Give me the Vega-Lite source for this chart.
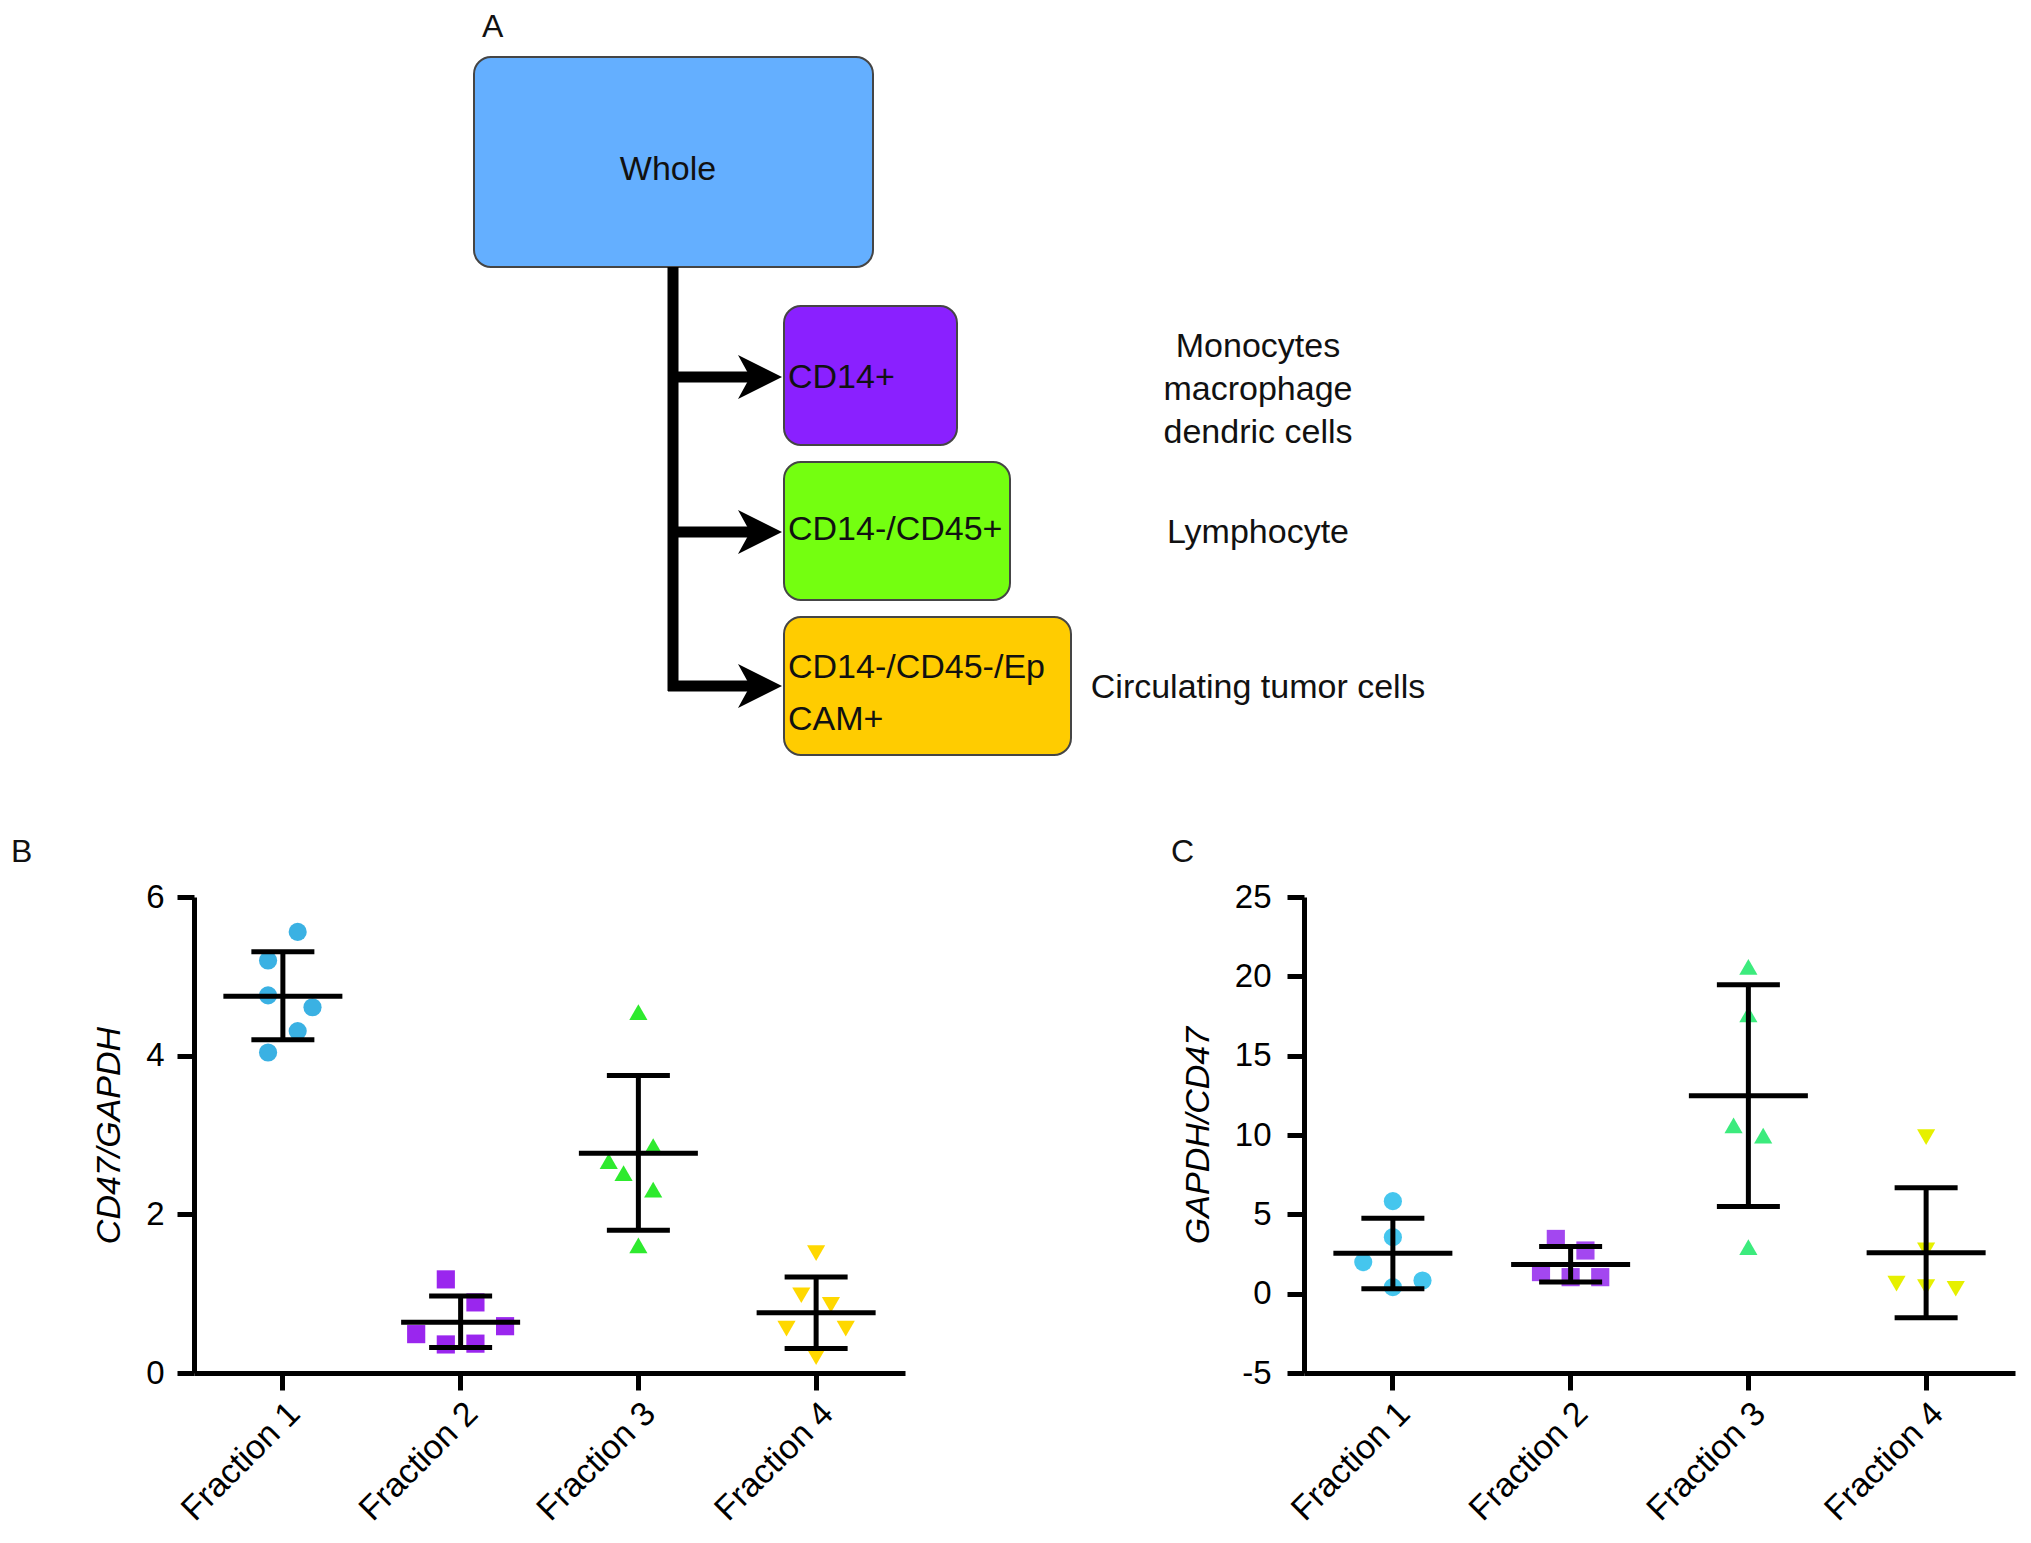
{
  "$schema": "https://vega.github.io/schema/vega-lite/v6.json",
  "padding": {"left": 11, "top": 0, "right": 0, "bottom": 0},
  "autosize": {"type": "pad"},
  "background": "white",
  "config": {
    "font": "Liberation Sans",
    "view": {"stroke": null, "fill": "white"},
    "axis": {"grid": false, "labelColor": "black", "titleColor": "black", "domainColor": "black", "tickColor": "black", "labelFont": "Liberation Sans", "titleFont": "Liberation Sans", "labelLimit": 400}
  },
  "datasets": {
    "boxes": [
      {"box": "Whole", "x": 474, "x2": 873, "y": 57, "y2": 267},
      {"box": "CD14+", "x": 784, "x2": 957, "y": 306, "y2": 445},
      {"box": "CD14-/CD45+", "x": 784, "x2": 1010, "y": 462, "y2": 600},
      {"box": "CD14-/CD45-/EpCAM+", "x": 784, "x2": 1071, "y": 617, "y2": 755}
    ],
    "links": [
      {"x": 673, "x2": 673, "y": 267, "y2": 691},
      {"x": 668, "x2": 758, "y": 377, "y2": 377},
      {"x": 668, "x2": 758, "y": 532, "y2": 532},
      {"x": 668, "x2": 758, "y": 686, "y2": 686}
    ],
    "heads": [
      {"x": 760, "y": 377},
      {"x": 760, "y": 532},
      {"x": 760, "y": 686}
    ],
    "centerText": [
      {"t": "Whole", "x": 668, "y": 180},
      {"t": "Monocytes", "x": 1258, "y": 357},
      {"t": "macrophage", "x": 1258, "y": 400},
      {"t": "dendric cells", "x": 1258, "y": 443},
      {"t": "Lymphocyte", "x": 1258, "y": 543},
      {"t": "Circulating tumor cells", "x": 1258, "y": 698}
    ],
    "leftText": [
      {"t": "CD14+", "x": 788, "y": 388},
      {"t": "CD14-/CD45+", "x": 788, "y": 540},
      {"t": "CD14-/CD45-/Ep", "x": 788, "y": 678},
      {"t": "CAM+", "x": 788, "y": 730}
    ],
    "letters": [
      {"t": "A", "x": 482, "y": 37},
      {"t": "B", "x": 11, "y": 862},
      {"t": "C", "x": 1171, "y": 862}
    ],
    "cd47": [
      {"fraction": "Fraction 1", "value": 5.56, "slot": 1},
      {"fraction": "Fraction 1", "value": 5.20, "slot": -1},
      {"fraction": "Fraction 1", "value": 4.76, "slot": -1},
      {"fraction": "Fraction 1", "value": 4.61, "slot": 2},
      {"fraction": "Fraction 1", "value": 4.31, "slot": 1},
      {"fraction": "Fraction 1", "value": 4.04, "slot": -1},
      {"fraction": "Fraction 2", "value": 1.18, "slot": -1},
      {"fraction": "Fraction 2", "value": 0.89, "slot": 1},
      {"fraction": "Fraction 2", "value": 0.59, "slot": 3},
      {"fraction": "Fraction 2", "value": 0.49, "slot": -3},
      {"fraction": "Fraction 2", "value": 0.36, "slot": -1},
      {"fraction": "Fraction 2", "value": 0.37, "slot": 1},
      {"fraction": "Fraction 3", "value": 4.55, "slot": 0},
      {"fraction": "Fraction 3", "value": 2.86, "slot": 1},
      {"fraction": "Fraction 3", "value": 2.67, "slot": -2},
      {"fraction": "Fraction 3", "value": 2.52, "slot": -1},
      {"fraction": "Fraction 3", "value": 2.31, "slot": 1},
      {"fraction": "Fraction 3", "value": 1.61, "slot": 0},
      {"fraction": "Fraction 4", "value": 1.51, "slot": 0},
      {"fraction": "Fraction 4", "value": 0.98, "slot": -1},
      {"fraction": "Fraction 4", "value": 0.86, "slot": 1},
      {"fraction": "Fraction 4", "value": 0.56, "slot": -2},
      {"fraction": "Fraction 4", "value": 0.56, "slot": 2},
      {"fraction": "Fraction 4", "value": 0.20, "slot": 0}
    ],
    "cd47stats": [
      {"fraction": "Fraction 1", "mean": 4.75, "lo": 4.20, "hi": 5.31},
      {"fraction": "Fraction 2", "mean": 0.64, "lo": 0.32, "hi": 0.97},
      {"fraction": "Fraction 3", "mean": 2.77, "lo": 1.80, "hi": 3.75},
      {"fraction": "Fraction 4", "mean": 0.76, "lo": 0.31, "hi": 1.21}
    ],
    "gapdh": [
      {"fraction": "Fraction 1", "value": 5.83, "slot": 0},
      {"fraction": "Fraction 1", "value": 3.56, "slot": 0},
      {"fraction": "Fraction 1", "value": 1.99, "slot": -2},
      {"fraction": "Fraction 1", "value": 0.83, "slot": 2},
      {"fraction": "Fraction 1", "value": 0.41, "slot": 0},
      {"fraction": "Fraction 2", "value": 3.45, "slot": -1},
      {"fraction": "Fraction 2", "value": 2.72, "slot": 1},
      {"fraction": "Fraction 2", "value": 1.36, "slot": -2},
      {"fraction": "Fraction 2", "value": 1.04, "slot": 0},
      {"fraction": "Fraction 2", "value": 1.04, "slot": 2},
      {"fraction": "Fraction 3", "value": 20.6, "slot": 0},
      {"fraction": "Fraction 3", "value": 17.6, "slot": 0},
      {"fraction": "Fraction 3", "value": 10.6, "slot": -1},
      {"fraction": "Fraction 3", "value": 9.96, "slot": 1},
      {"fraction": "Fraction 3", "value": 2.94, "slot": 0},
      {"fraction": "Fraction 4", "value": 9.86, "slot": 0},
      {"fraction": "Fraction 4", "value": 2.73, "slot": 0},
      {"fraction": "Fraction 4", "value": 0.63, "slot": -2},
      {"fraction": "Fraction 4", "value": 0.42, "slot": 0},
      {"fraction": "Fraction 4", "value": 0.31, "slot": 2}
    ],
    "gapdhstats": [
      {"fraction": "Fraction 1", "mean": 2.55, "lo": 0.31, "hi": 4.76},
      {"fraction": "Fraction 2", "mean": 1.84, "lo": 0.73, "hi": 2.97},
      {"fraction": "Fraction 3", "mean": 12.48, "lo": 5.50, "hi": 19.47},
      {"fraction": "Fraction 4", "mean": 2.58, "lo": -1.51, "hi": 6.67}
    ]
  },
  "spacing": 97,
  "bounds": "flush",
  "resolve": {"scale": {"color": "independent", "shape": "independent", "x": "independent", "y": "independent"}},
  "vconcat": [
    {
      "width": 1837,
      "height": 800,
      "encoding": {
        "x": {"field": "x", "type": "quantitative", "scale": {"domain": [194, 2031], "nice": false, "zero": false}, "axis": null},
        "y": {"field": "y", "type": "quantitative", "scale": {"domain": [0, 800], "reverse": true, "nice": false, "zero": false}, "axis": null}
      },
      "layer": [
        {
          "data": {"name": "boxes"},
          "mark": {"type": "rect", "cornerRadius": 17, "stroke": "#454545", "strokeWidth": 2, "opacity": 1},
          "encoding": {
            "x2": {"field": "x2"},
            "y2": {"field": "y2"},
            "color": {"field": "box", "type": "nominal", "scale": {"domain": ["Whole", "CD14+", "CD14-/CD45+", "CD14-/CD45-/EpCAM+"], "range": ["#64AFFF", "#8A20FF", "#74FF10", "#FFCC00"]}, "legend": null}
          }
        },
        {
          "data": {"name": "links"},
          "mark": {"type": "rule", "strokeWidth": 11, "color": "black", "strokeCap": "butt"},
          "encoding": {"x2": {"field": "x2"}, "y2": {"field": "y2"}}
        },
        {
          "data": {"name": "heads"},
          "mark": {"type": "point", "shape": "M1,0L-1,-1L-0.45,0L-1,1Z", "filled": true, "color": "black", "size": 1936, "opacity": 1},
          "encoding": {}
        },
        {
          "data": {"name": "centerText"},
          "mark": {"type": "text", "align": "center", "baseline": "alphabetic", "fontSize": 34, "font": "Liberation Sans", "color": "#111111"},
          "encoding": {"text": {"field": "t"}}
        },
        {
          "data": {"name": "leftText"},
          "mark": {"type": "text", "align": "left", "baseline": "alphabetic", "fontSize": 34, "font": "Liberation Sans", "color": "#111111"},
          "encoding": {"text": {"field": "t"}}
        },
        {
          "data": {"name": "letters"},
          "mark": {"type": "text", "align": "left", "baseline": "alphabetic", "fontSize": 32, "font": "Liberation Sans", "color": "#111111"},
          "encoding": {"text": {"field": "t"}}
        }
      ]
    },
    {
      "spacing": 399,
      "bounds": "flush",
      "resolve": {"scale": {"color": "independent", "shape": "independent", "x": "independent", "y": "independent"}},
      "hconcat": [
        {
          "width": 711,
          "height": 476,
          "encoding": {
            "x": {"field": "fraction", "type": "nominal", "scale": {"type": "band", "domain": ["Fraction 1", "Fraction 2", "Fraction 3", "Fraction 4"], "paddingInner": 0, "paddingOuter": 0},
                  "axis": {"title": null, "labelAngle": -45, "labelAlign": "right", "labelBaseline": "top", "labelFontSize": 34, "labelPadding": 6, "tickSize": 17, "tickWidth": 5, "domainWidth": 5}}
          },
          "layer": [
            {
              "data": {"name": "cd47"},
              "mark": {"type": "point", "filled": true, "opacity": 1, "size": 330},
              "encoding": {
                "xOffset": {"field": "slot", "type": "quantitative", "scale": {"domain": [-6, 6], "range": [0, 177.75], "nice": false, "zero": false}},
                "y": {"field": "value", "type": "quantitative", "scale": {"domain": [0, 6], "nice": false},
                      "axis": {"values": [0, 2, 4, 6], "title": "CD47/GAPDH", "titleFontStyle": "italic", "titleFontWeight": "normal", "titleFontSize": 34, "titlePadding": 19, "labelFontSize": 33, "labelPadding": 13, "tickSize": 17, "tickWidth": 5, "domainWidth": 5}},
                "color": {"field": "fraction", "type": "nominal", "scale": {"domain": ["Fraction 1", "Fraction 2", "Fraction 3", "Fraction 4"], "range": ["#3AB1E3", "#9A26EE", "#2EEA2E", "#FFD800"]}, "legend": null},
                "shape": {"field": "fraction", "type": "nominal", "scale": {"domain": ["Fraction 1", "Fraction 2", "Fraction 3", "Fraction 4"], "range": ["circle", "square", "triangle-up", "triangle-down"]}, "legend": null}
              }
            },
            {
              "data": {"name": "cd47stats"},
              "mark": {"type": "rule", "strokeWidth": 5, "color": "black"},
              "encoding": {"y": {"field": "lo", "type": "quantitative", "scale": {"domain": [0, 6], "nice": false},
                      "axis": {"values": [0, 2, 4, 6], "title": "CD47/GAPDH", "titleFontStyle": "italic", "titleFontWeight": "normal", "titleFontSize": 34, "titlePadding": 19, "labelFontSize": 33, "labelPadding": 13, "tickSize": 17, "tickWidth": 5, "domainWidth": 5}}, "y2": {"field": "hi"}}
            },
            {
              "data": {"name": "cd47stats"},
              "mark": {"type": "tick", "size": 119, "thickness": 5, "color": "black", "opacity": 1},
              "encoding": {"y": {"field": "mean", "type": "quantitative", "scale": {"domain": [0, 6], "nice": false},
                      "axis": {"values": [0, 2, 4, 6], "title": "CD47/GAPDH", "titleFontStyle": "italic", "titleFontWeight": "normal", "titleFontSize": 34, "titlePadding": 19, "labelFontSize": 33, "labelPadding": 13, "tickSize": 17, "tickWidth": 5, "domainWidth": 5}}}
            },
            {
              "data": {"name": "cd47stats"},
              "mark": {"type": "tick", "size": 63, "thickness": 5, "color": "black", "opacity": 1},
              "encoding": {"y": {"field": "lo", "type": "quantitative", "scale": {"domain": [0, 6], "nice": false},
                      "axis": {"values": [0, 2, 4, 6], "title": "CD47/GAPDH", "titleFontStyle": "italic", "titleFontWeight": "normal", "titleFontSize": 34, "titlePadding": 19, "labelFontSize": 33, "labelPadding": 13, "tickSize": 17, "tickWidth": 5, "domainWidth": 5}}}
            },
            {
              "data": {"name": "cd47stats"},
              "mark": {"type": "tick", "size": 63, "thickness": 5, "color": "black", "opacity": 1},
              "encoding": {"y": {"field": "hi", "type": "quantitative", "scale": {"domain": [0, 6], "nice": false},
                      "axis": {"values": [0, 2, 4, 6], "title": "CD47/GAPDH", "titleFontStyle": "italic", "titleFontWeight": "normal", "titleFontSize": 34, "titlePadding": 19, "labelFontSize": 33, "labelPadding": 13, "tickSize": 17, "tickWidth": 5, "domainWidth": 5}}}
            }
          ]
        },
        {
          "width": 711,
          "height": 476,
          "encoding": {
            "x": {"field": "fraction", "type": "nominal", "scale": {"type": "band", "domain": ["Fraction 1", "Fraction 2", "Fraction 3", "Fraction 4"], "paddingInner": 0, "paddingOuter": 0},
                  "axis": {"title": null, "labelAngle": -45, "labelAlign": "right", "labelBaseline": "top", "labelFontSize": 34, "labelPadding": 6, "tickSize": 17, "tickWidth": 5, "domainWidth": 5}}
          },
          "layer": [
            {
              "data": {"name": "gapdh"},
              "mark": {"type": "point", "filled": true, "opacity": 1, "size": 330},
              "encoding": {
                "xOffset": {"field": "slot", "type": "quantitative", "scale": {"domain": [-6, 6], "range": [0, 177.75], "nice": false, "zero": false}},
                "y": {"field": "value", "type": "quantitative", "scale": {"domain": [-5, 25], "nice": false},
                      "axis": {"values": [-5, 0, 5, 10, 15, 20, 25], "labelExpr": "datum.value < 0 ? '-' + abs(datum.value) : datum.label", "title": "GAPDH/CD47", "titleFontStyle": "italic", "titleFontWeight": "normal", "titleFontSize": 34, "titlePadding": 19, "labelFontSize": 33, "labelPadding": 16, "tickSize": 17, "tickWidth": 5, "domainWidth": 5}},
                "color": {"field": "fraction", "type": "nominal", "scale": {"domain": ["Fraction 1", "Fraction 2", "Fraction 3", "Fraction 4"], "range": ["#45C6EE", "#A347F0", "#3CEB7D", "#E6F000"]}, "legend": null},
                "shape": {"field": "fraction", "type": "nominal", "scale": {"domain": ["Fraction 1", "Fraction 2", "Fraction 3", "Fraction 4"], "range": ["circle", "square", "triangle-up", "triangle-down"]}, "legend": null}
              }
            },
            {
              "data": {"name": "gapdhstats"},
              "mark": {"type": "rule", "strokeWidth": 5, "color": "black"},
              "encoding": {"y": {"field": "lo", "type": "quantitative", "scale": {"domain": [-5, 25], "nice": false},
                      "axis": {"values": [-5, 0, 5, 10, 15, 20, 25], "labelExpr": "datum.value < 0 ? '-' + abs(datum.value) : datum.label", "title": "GAPDH/CD47", "titleFontStyle": "italic", "titleFontWeight": "normal", "titleFontSize": 34, "titlePadding": 19, "labelFontSize": 33, "labelPadding": 16, "tickSize": 17, "tickWidth": 5, "domainWidth": 5}}, "y2": {"field": "hi"}}
            },
            {
              "data": {"name": "gapdhstats"},
              "mark": {"type": "tick", "size": 119, "thickness": 5, "color": "black", "opacity": 1},
              "encoding": {"y": {"field": "mean", "type": "quantitative", "scale": {"domain": [-5, 25], "nice": false},
                      "axis": {"values": [-5, 0, 5, 10, 15, 20, 25], "labelExpr": "datum.value < 0 ? '-' + abs(datum.value) : datum.label", "title": "GAPDH/CD47", "titleFontStyle": "italic", "titleFontWeight": "normal", "titleFontSize": 34, "titlePadding": 19, "labelFontSize": 33, "labelPadding": 16, "tickSize": 17, "tickWidth": 5, "domainWidth": 5}}}
            },
            {
              "data": {"name": "gapdhstats"},
              "mark": {"type": "tick", "size": 63, "thickness": 5, "color": "black", "opacity": 1},
              "encoding": {"y": {"field": "lo", "type": "quantitative", "scale": {"domain": [-5, 25], "nice": false},
                      "axis": {"values": [-5, 0, 5, 10, 15, 20, 25], "labelExpr": "datum.value < 0 ? '-' + abs(datum.value) : datum.label", "title": "GAPDH/CD47", "titleFontStyle": "italic", "titleFontWeight": "normal", "titleFontSize": 34, "titlePadding": 19, "labelFontSize": 33, "labelPadding": 16, "tickSize": 17, "tickWidth": 5, "domainWidth": 5}}}
            },
            {
              "data": {"name": "gapdhstats"},
              "mark": {"type": "tick", "size": 63, "thickness": 5, "color": "black", "opacity": 1},
              "encoding": {"y": {"field": "hi", "type": "quantitative", "scale": {"domain": [-5, 25], "nice": false},
                      "axis": {"values": [-5, 0, 5, 10, 15, 20, 25], "labelExpr": "datum.value < 0 ? '-' + abs(datum.value) : datum.label", "title": "GAPDH/CD47", "titleFontStyle": "italic", "titleFontWeight": "normal", "titleFontSize": 34, "titlePadding": 19, "labelFontSize": 33, "labelPadding": 16, "tickSize": 17, "tickWidth": 5, "domainWidth": 5}}}
            }
          ]
        }
      ]
    }
  ]
}
